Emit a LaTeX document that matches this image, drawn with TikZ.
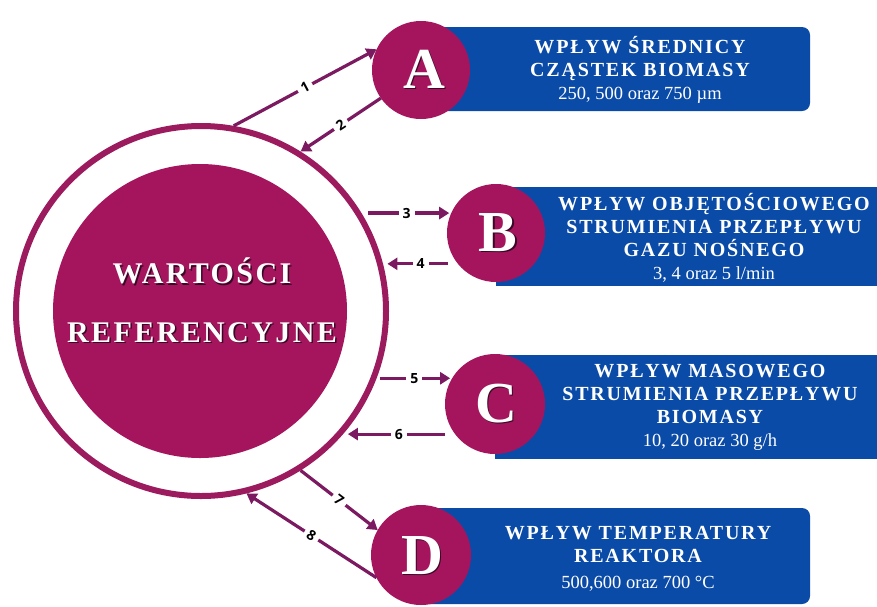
\documentclass[tikz,border=0pt]{standalone}
\usepackage{fontspec}
\setmainfont{Liberation Serif}
\newfontfamily\numfont{Open Sans}
\newfontfamily\ttlfont[LetterSpace=9]{Liberation Serif}
\newfontfamily\bigfont[LetterSpace=8]{Liberation Serif}
\usetikzlibrary{arrows.meta}
\definecolor{mag}{HTML}{A5155D}
\definecolor{ringc}{HTML}{9C1A5E}
\definecolor{arrc}{HTML}{7B1A60}
\definecolor{boxblue}{HTML}{0B4BA8}
\definecolor{shad}{HTML}{3A0826}
\newcommand\shd[1]{\makebox[0pt][l]{\kern1.5pt\raisebox{-1.5pt}{\textcolor{shad}{#1}}}#1}
\newcommand\valsf{\rmfamily\mdseries\fontsize{18.5}{23}\selectfont}
\begin{document}
\begin{tikzpicture}[x=1pt,y=-1pt,
  arr/.style={draw=arrc, line width=3.2pt, -{Triangle[length=10pt,width=12pt]}},
  num/.style={fill=white, font=\numfont\bfseries\fontsize{14}{14}\selectfont, inner sep=4pt, sloped},
  smallc/.style={circle, fill=mag, minimum size=98pt, inner sep=0pt, outer sep=0pt},
  letter/.style={text=white, font=\bigfont\bfseries\fontsize{58}{58}\selectfont, inner sep=0pt},
  bluebox/.style={fill=boxblue, inner sep=0pt, outer sep=0pt, anchor=north west},
  ttl/.style={text=white, align=center, inner sep=0pt, font=\ttlfont\bfseries\fontsize{20}{23}\selectfont},
  ctr/.style={text=white, inner sep=0pt, font=\bigfont\bfseries\fontsize{30}{30}\selectfont}
]
\fill[white] (0,0) rectangle (877,606);
\useasboundingbox (0,0) rectangle (877,606);

% central circles
\node[circle, draw=ringc, line width=6pt, minimum size=370pt, inner sep=0pt] (ring) at (201,311) {};
\node[circle, fill=mag, minimum size=294pt, inner sep=0pt] (core) at (200,311) {};
\node[ctr] (wart) at (202,272) {\shd{WARTOŚCI}};
\node[ctr] (ref) at (202,333) {\shd{REFERENCYJNE}};

% blue boxes
\node[bluebox, rounded corners=8pt, minimum width=389pt, minimum height=84pt] (boxA) at (421,27) {};
\node[bluebox, minimum width=381pt, minimum height=99pt] (boxB) at (496,187) {};
\node[bluebox, minimum width=382pt, minimum height=104pt] (boxC) at (495,355) {};
\node[bluebox, rounded corners=8pt, minimum width=389pt, minimum height=96pt] (boxD) at (421,508) {};

% small circles
\node[smallc] (A) at (421,70) {};
\node[smallc] (B) at (496,233) {};
\node[smallc, minimum size=100pt] (C) at (495,404) {};
\node[smallc, minimum size=100pt] (D) at (421,555) {};
\node[letter] (lA) at (424,70) {\shd{A}};
\node[letter] (lB) at (498,233) {\shd{B}};
\node[letter] (lC) at (496,404) {\shd{C}};
\node[letter] (lD) at (422,556) {\shd{D}};

% texts
\node[ttl] (tA) at (640,70) {WPŁYW ŚREDNICY\\CZĄSTEK BIOMASY\\{\valsf 250, 500 oraz 750 µm}};
\node[ttl] (tB) at (714,238) {WPŁYW OBJĘTOŚCIOWEGO\\STRUMIENIA PRZEPŁYWU\\GAZU NOŚNEGO\\{\valsf 3, 4 oraz 5 l/min}};
\node[ttl] (tC) at (710,407) {WPŁYW MASOWEGO\\STRUMIENIA PRZEPŁYWU\\BIOMASY\\{\valsf 10, 20 oraz 30 g/h}};
\node[ttl] (tD) at (638,559) {WPŁYW TEMPERATURY\\REAKTORA\\[3pt]{\valsf 500,600 oraz 700 °C}};

% arrows
\draw[arr] (ring.80) -- node[num] {1} (A.155);
\draw[arr] (A.215) -- node[num] {2} (ring.58);
\draw[arr, shorten <=6pt, shorten >=2pt] (ring.31 |- B.156) -- node[num] {3} (B.156);
\draw[arr, shorten <=10pt, shorten >=4pt] (B.219) -- node[num] {4} (ring.14 |- B.219);
\draw[arr, shorten <=3pt, shorten >=2pt] (ring.-21 |- C.149) -- node[num] {5} (C.149);
\draw[arr, shorten <=10pt, shorten >=5pt] (C.217) -- node[num] {6} (ring.-41 |- C.217);
\draw[arr] (ring.-58) -- node[num] {7} (D.150);
\draw[arr] (D.207) -- node[num] {8} (ring.-76);
\end{tikzpicture}
\end{document}
